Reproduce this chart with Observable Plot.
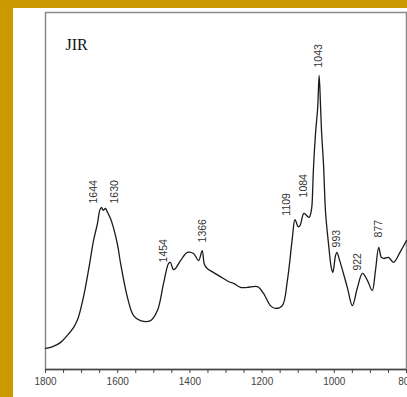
<!DOCTYPE html>
<html><head><meta charset="utf-8">
<script src="https://cdn.jsdelivr.net/npm/d3@7"></script>
<script src="https://cdn.jsdelivr.net/npm/@observablehq/plot@0.6"></script>
<style>
html,body{margin:0;padding:0;background:#fff;}
#wrap{width:394px;height:389px;border-left:13px solid #cc9900;border-top:8px solid #cc9900;background:#fff;overflow:hidden;}
#wrap svg{display:block;}
</style></head><body><div id="wrap"></div>
<script>
const wavenumbers = [1800,1780,1758,1740,1722,1710,1695,1680,1667,1656,1650,1645,1640,1634,1628,1620,1612,1600,1592,1573,1556,1537,1509,1490,1473,1459,1454,1446,1440,1426,1407,1390,1376,1366,1360,1352,1335,1307,1290,1279,1260,1241,1213,1196,1177,1163,1144,1130,1116,1109,1100,1095,1084,1070,1063,1060,1058,1052,1046,1042,1038,1035,1030,1027,1024,1015,1008,1004,997,993,985,964,950,936,922,908,895,886,877,870,863,850,836,817,800];
const absorbance = [5.9,6.4,7.6,9.5,11.8,14.3,20.2,28.3,36.1,40.9,44.5,45.4,44.6,45.1,44.0,42.3,39.8,34.7,29.7,20.2,15.1,13.7,13.7,16.5,24.1,29.7,30.0,28.0,28.3,30.5,32.8,32.5,30.5,33.3,29.5,28.3,27.2,25.5,24.5,24.1,23.0,23.0,23.2,21.3,17.9,17.1,17.9,24.9,37.0,42.0,40.0,40.3,43.7,42.6,45.0,50.0,55.7,66.1,73.4,82.4,73.4,66.1,57.7,50.1,43.7,34.2,28.3,27.2,31.7,32.8,30.5,23.0,17.9,22.9,26.9,24.9,22.1,27.7,34.2,31.5,31.1,31.4,30.0,33.0,36.1];
const peakLabels = [1644,1630,1454,1366,1109,1084,1043,993,922,877];
const labelBase = [46.5,46.5,30.0,35.6,43.1,48.2,84.6,34.2,27.7,37.0];
const xTicks = d3.range(800, 1801, 50);
const xTickLabels = [800,1000,1200,1400,1600,1800];
const sampleName = "JIR";

const spectrum = wavenumbers.map((w,i)=>({w, a: absorbance[i]}));
const peaks = peakLabels.map((p,i)=>({p, a: labelBase[i]}));
const dxByPeak = {1644:-8,1630:8,1454:-7,1109:-8,922:-5};
const dxOf = p => dxByPeak[p] ?? 0;
const dxGroups = [...new Set(peakLabels.map(dxOf))];

const chart = Plot.plot({
  width:394, height:389, marginLeft:32, marginRight:1, marginTop:4, marginBottom:28,
  style:{fontFamily:"'Liberation Sans', Arial, sans-serif", background:"#fff"},
  x:{domain:[1800,800], axis:null},
  y:{domain:[0,100], axis:null},
  marks:[
    Plot.frame({stroke:"#8a8a8a", strokeWidth:1.5}),
    Plot.ruleY([0], {stroke:"#444", strokeWidth:1.5}),
    Plot.axisX({ticks:xTicks, tickSize:4, tickPadding:4, tickFormat:d => xTickLabels.includes(d) ? String(d) : "", fontSize:10, color:"#444"}),
    Plot.line(spectrum, {x:"w", y:"a", stroke:"#1a1a1a", strokeWidth:1.3, curve:"catmull-rom"}),
    ...dxGroups.map(dx => Plot.text(peaks.filter(d => dxOf(d.p) === dx), {x:"p", y:"a", text:d=>String(d.p), rotate:-90, textAnchor:"start", dx, fontSize:10.5, fill:"#333"})),
    Plot.text([sampleName], {frameAnchor:"top-left", text:d=>d, dx:20, dy:26, lineAnchor:"top", fontFamily:"'Liberation Serif', 'Times New Roman', serif", fontSize:16, fill:"#111", style:"letter-spacing:-1.5px"})
  ]
});
document.getElementById("wrap").appendChild(chart);
</script></body></html>
